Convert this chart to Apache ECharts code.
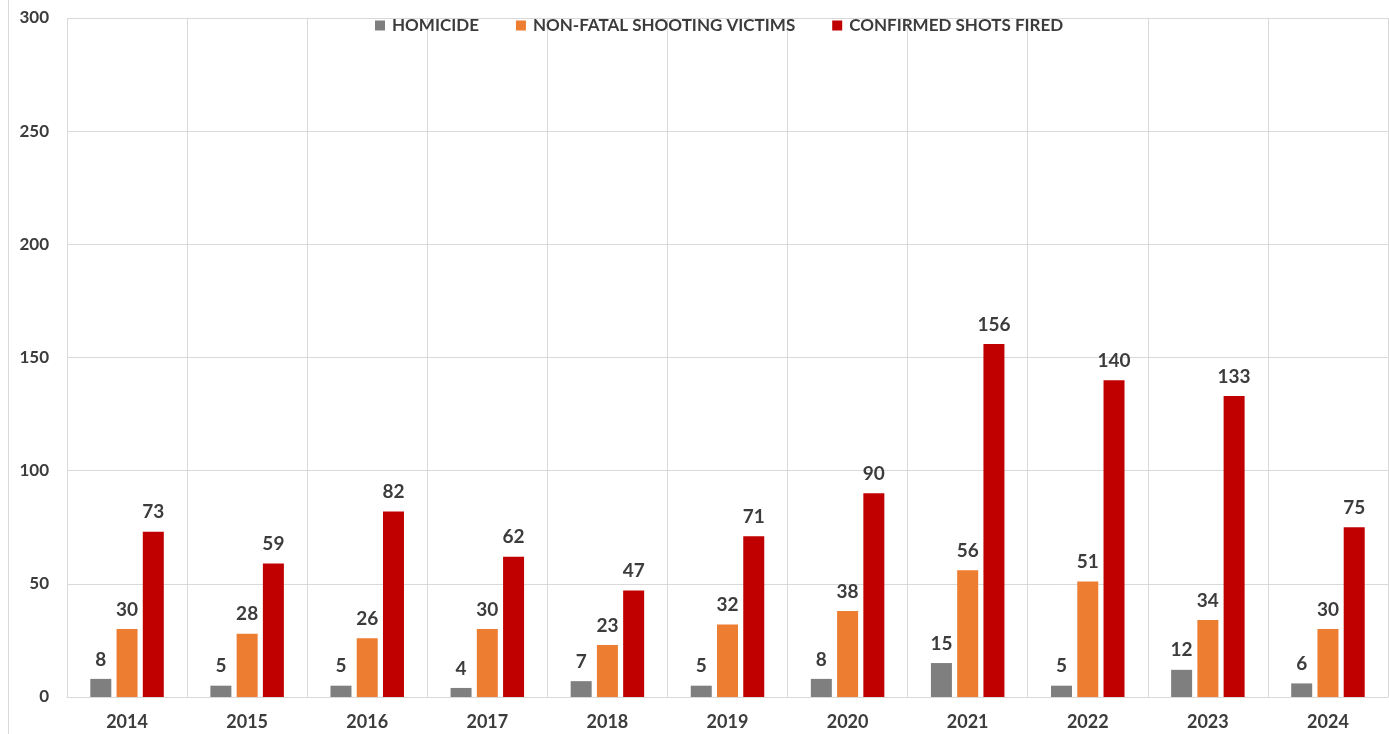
<!DOCTYPE html>
<html>
<head>
<meta charset="utf-8">
<script src="https://cdn.jsdelivr.net/npm/echarts@6/dist/echarts.min.js"></script>
<style>html,body{margin:0;padding:0;background:#fff}#c{width:1389px;height:734px}</style>
</head>
<body>
<div id="c"></div>
<script>
const categories = ['2014','2015','2016','2017','2018','2019','2020','2021','2022','2023','2024'];
const homicide = [8,5,5,4,7,5,8,15,5,12,6];
const nonFatal = [30,28,26,30,23,32,38,56,51,34,30];
const shotsFired = [73,59,82,62,47,71,90,156,140,133,75];
const seriesNames = ['HOMICIDE','NON-FATAL SHOOTING VICTIMS','CONFIRMED SHOTS FIRED'];
const yTicks = {min:0, max:300, interval:50};

const FONT = 'Lato, "Open Sans", sans-serif';
const TXT = '#3c3c3c';
const chart = echarts.init(document.getElementById('c'));
const label = {show:true, position:'top', distance:10, color:TXT, fontFamily:FONT, fontWeight:'bold', fontSize:19};
function bar(name, data, color){
  return {name, type:'bar', data, barWidth:21, barGap:'25%', itemStyle:{color}, label, animation:false};
}
chart.setOption({
  animation:false,
  graphic:[{type:'rect', shape:{x:8.5,y:-2,width:1400,height:734.5-(-2)}, style:{fill:'none', stroke:'#d9d9d9', lineWidth:1}, z:-1}],
  legend:{top:12, left:370, itemWidth:10, itemHeight:10, itemGap:37, icon:'rect',
    textStyle:{color:TXT, fontFamily:FONT, fontWeight:'bold', fontSize:17, padding:[0,0,0,2]}, data:seriesNames},
  grid:{left:67, right:1, top:18, bottom:37, containLabel:false},
  xAxis:{type:'category', data:categories, boundaryGap:true,
    axisLine:{show:true, lineStyle:{color:'#d9d9d9', width:1}},
    axisTick:{show:false},
    splitLine:{show:true, lineStyle:{color:'#d9d9d9', width:1}},
    axisLabel:{color:TXT, fontFamily:FONT, fontWeight:'bold', fontSize:18, margin:16}},
  yAxis:{type:'value', min:yTicks.min, max:yTicks.max, interval:yTicks.interval,
    axisLine:{show:false}, axisTick:{show:false},
    splitLine:{show:true, lineStyle:{color:'#d9d9d9', width:1}},
    axisLabel:{color:TXT, fontFamily:FONT, fontWeight:'bold', fontSize:17, margin:18}},
  series:[bar(seriesNames[0], homicide, '#7f7f7f'), bar(seriesNames[1], nonFatal, '#ed7d31'), bar(seriesNames[2], shotsFired, '#c00000')]
});
</script>
</body>
</html>
